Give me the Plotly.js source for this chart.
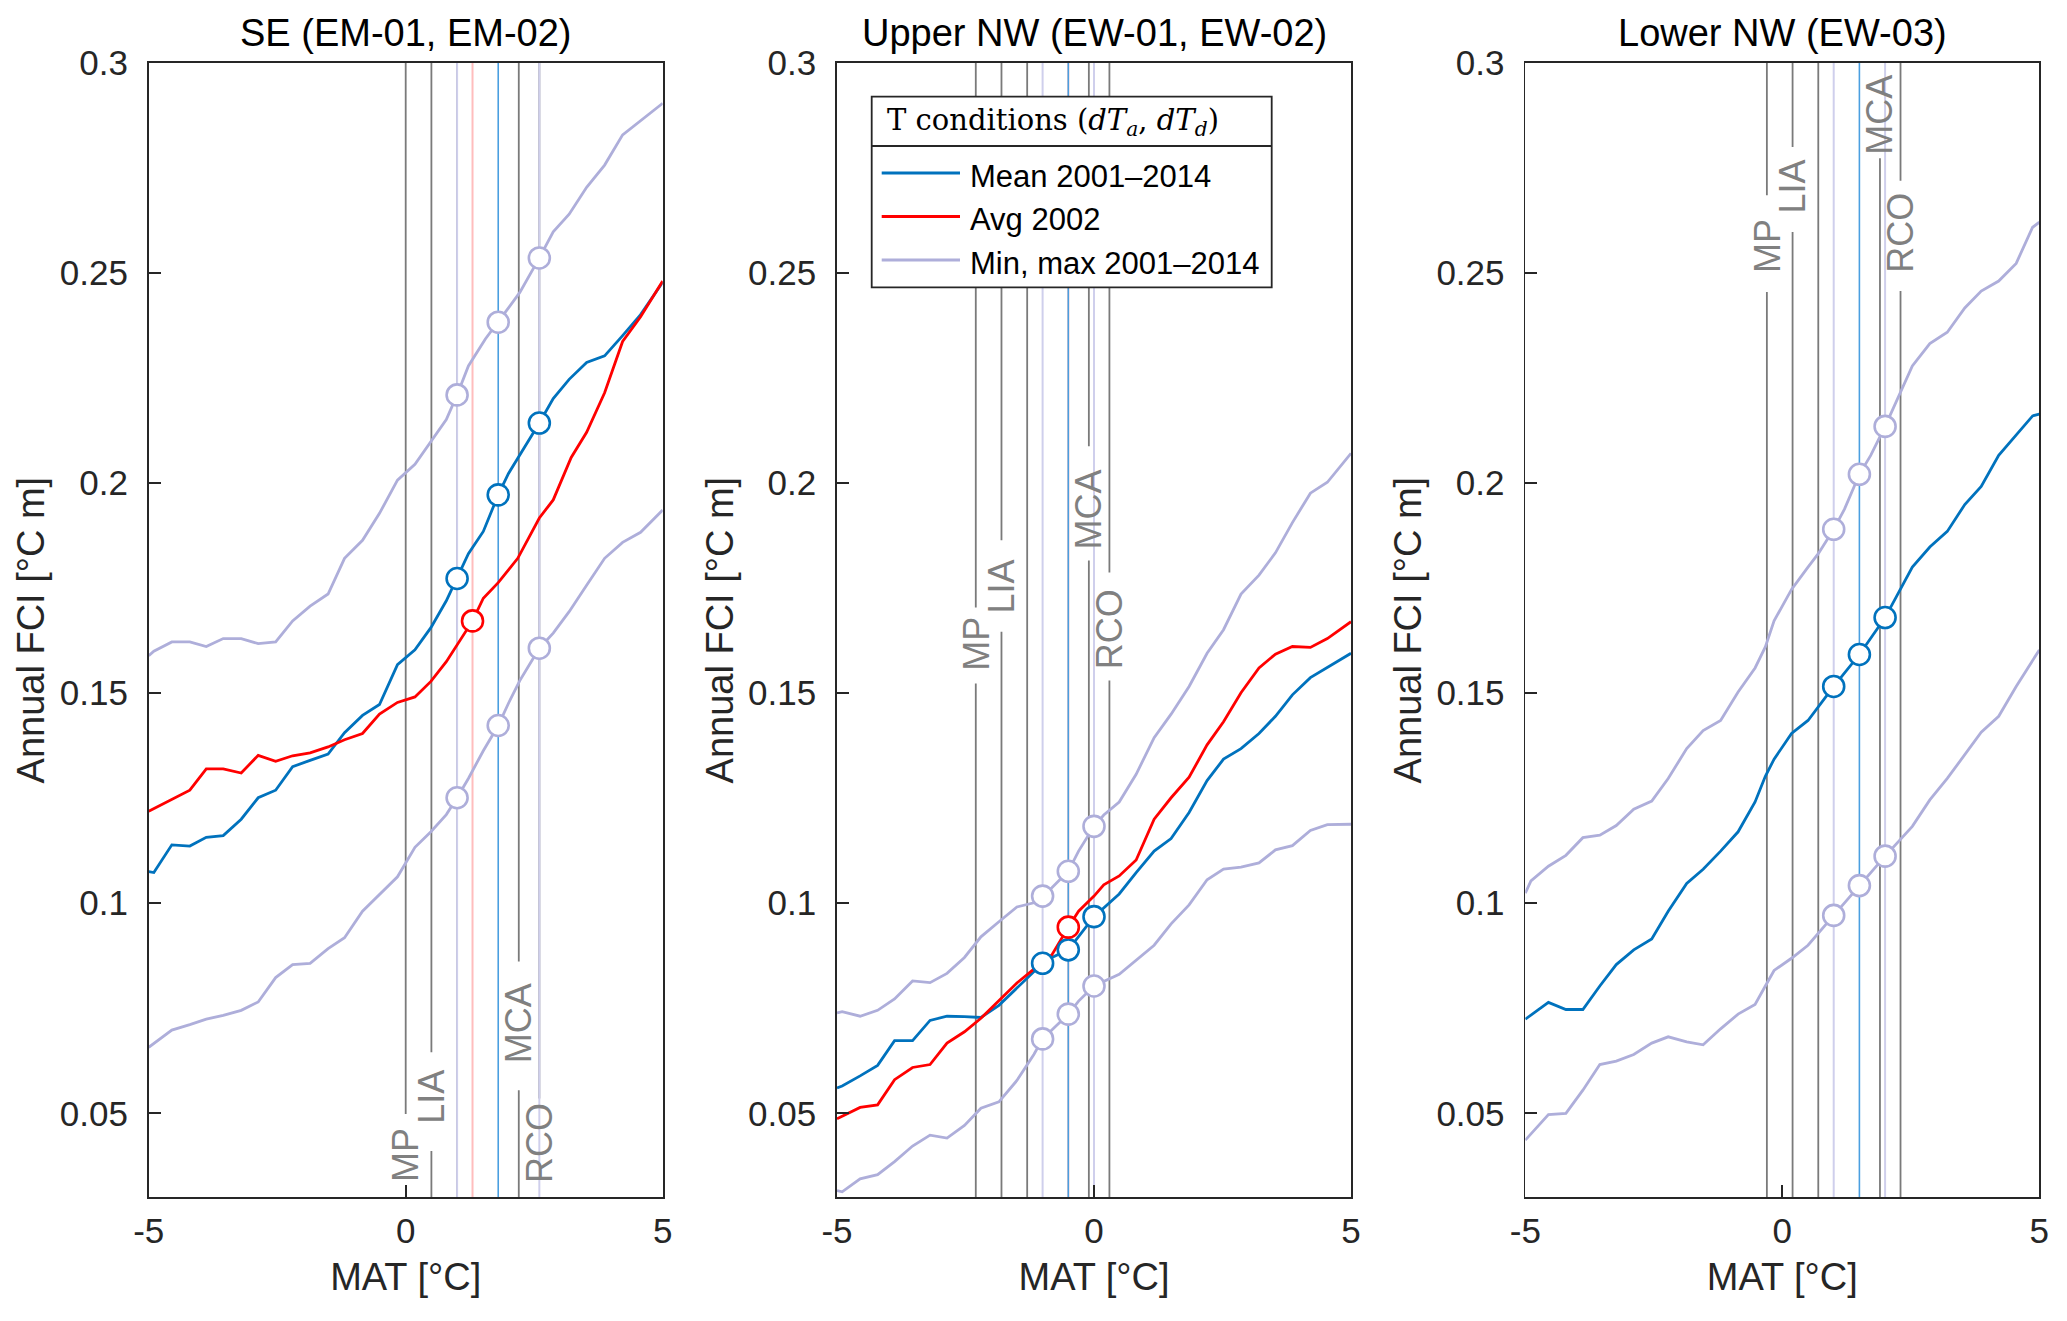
<!DOCTYPE html>
<html>
<head>
<meta charset="utf-8">
<script src="https://cdn.plot.ly/plotly-3.0.1.min.js"></script>
<style>html,body{margin:0;padding:0;background:#fff;}#chart{width:2067px;height:1321px;}</style>
</head>
<body>
<div id="chart"></div>
<script>
// ---------------- DATA ----------------
const panelTitles = ['SE (EM-01, EM-02)', 'Upper NW (EW-01, EW-02)', 'Lower NW (EW-03)'];
const xTickVals = [-5, 0, 5];
const xTickText = ['-5', '0', '5'];
const yTickVals = [0.05, 0.1, 0.15, 0.2, 0.25, 0.3];
const yTickText = ['0.05', '0.1', '0.15', '0.2', '0.25', '0.3'];
const legendTitle = 'T conditions (<i>dT</i><sub><i>a</i></sub>, <i>dT</i><sub><i>d</i></sub>)';
const seriesNames = ['Mean 2001\u20132014', 'Avg 2002', 'Min, max 2001\u20132014'];
const epochNames = ['MP', 'LIA', '', 'MCA', 'RCO'];

// SE (EM-01, EM-02)
const seMaxX = [-5, -4.9, -4.55, -4.2, -3.88, -3.55, -3.2, -2.87, -2.53, -2.2, -1.86, -1.51, -1.19, -0.84, -0.51, -0.16, 0.18, 0.49, 0.79, 1.0, 1.22, 1.55, 1.8, 2.0, 2.22, 2.6, 2.87, 3.18, 3.52, 3.87, 4.22, 4.57, 5];
const seMaxY = [0.1589, 0.1600, 0.1622, 0.1622, 0.1611, 0.1630, 0.1630, 0.1618, 0.1622, 0.1672, 0.1707, 0.1736, 0.1821, 0.1864, 0.1928, 0.2007, 0.2045, 0.2098, 0.2151, 0.2210, 0.2279, 0.2343, 0.2383, 0.2417, 0.2454, 0.2536, 0.2598, 0.2640, 0.2704, 0.2757, 0.2829, 0.2862, 0.2904];
const seMeanX = [-5, -4.9, -4.55, -4.2, -3.88, -3.55, -3.2, -2.87, -2.53, -2.2, -1.86, -1.51, -1.19, -0.84, -0.51, -0.16, 0.18, 0.49, 0.79, 1.0, 1.22, 1.51, 1.8, 2.0, 2.22, 2.6, 2.87, 3.18, 3.52, 3.87, 4.22, 4.57, 5];
const seMeanY = [0.1075, 0.1073, 0.1139, 0.1136, 0.1157, 0.1161, 0.1200, 0.1251, 0.1269, 0.1325, 0.1340, 0.1355, 0.1406, 0.1447, 0.1473, 0.1568, 0.1603, 0.1656, 0.1720, 0.1773, 0.1832, 0.1885, 0.1972, 0.2023, 0.2066, 0.2143, 0.2201, 0.2247, 0.2287, 0.2303, 0.2351, 0.2401, 0.2478];
const seAvgX = [-5, -4.55, -4.2, -3.88, -3.55, -3.2, -2.87, -2.53, -2.2, -1.86, -1.51, -1.19, -0.84, -0.51, -0.16, 0.18, 0.49, 0.79, 1.14, 1.3, 1.51, 1.8, 2.18, 2.6, 2.87, 3.22, 3.52, 3.87, 4.22, 4.57, 5];
const seAvgY = [0.1219, 0.1246, 0.1269, 0.1320, 0.1320, 0.1310, 0.1352, 0.1338, 0.1351, 0.1358, 0.1372, 0.1389, 0.1404, 0.1450, 0.1478, 0.1491, 0.1528, 0.1575, 0.1640, 0.1672, 0.1726, 0.1763, 0.1821, 0.1917, 0.1960, 0.2061, 0.2121, 0.2215, 0.2337, 0.2396, 0.2481];
const seMinX = [-5, -4.55, -4.2, -3.88, -3.55, -3.2, -2.87, -2.53, -2.2, -1.86, -1.51, -1.19, -0.84, -0.51, -0.16, 0.18, 0.49, 0.79, 1.0, 1.22, 1.51, 1.8, 2.0, 2.22, 2.6, 2.87, 3.18, 3.52, 3.87, 4.22, 4.57, 5];
const seMinY = [0.0657, 0.0698, 0.0711, 0.0724, 0.0733, 0.0745, 0.0765, 0.0823, 0.0854, 0.0857, 0.0892, 0.0918, 0.0981, 0.1020, 0.1063, 0.1133, 0.1170, 0.1211, 0.1251, 0.1297, 0.1363, 0.1423, 0.1476, 0.1530, 0.1607, 0.1643, 0.1694, 0.1757, 0.1821, 0.1859, 0.1883, 0.1936];
const seCondX = [1.0, 1.8, 2.6];
const seCondMaxY = [0.2210, 0.2383, 0.2536];
const seCondMeanY = [0.1773, 0.1972, 0.2143];
const seCondMinY = [0.1251, 0.1423, 0.1607];
const seAvgCondX = [1.3];
const seAvgCondY = [0.1672];
const seEpochX = [0, 0.5, 1.0, 2.2, 2.6];

// Upper NW (EW-01, EW-02)
const nwuMaxX = [-5, -4.9, -4.55, -4.21, -3.88, -3.53, -3.19, -2.86, -2.52, -2.2, -1.85, -1.5, -1.17, -1.0, -0.82, -0.5, -0.3, 0, 0.19, 0.49, 0.82, 1.17, 1.5, 1.85, 2.2, 2.52, 2.86, 3.21, 3.53, 3.86, 4.21, 4.54, 5];
const nwuMaxY = [0.0739, 0.0742, 0.0731, 0.0745, 0.0772, 0.0815, 0.0811, 0.0833, 0.0871, 0.0920, 0.0956, 0.0991, 0.1001, 0.1017, 0.1037, 0.1076, 0.1124, 0.1183, 0.1210, 0.1241, 0.1307, 0.1394, 0.1450, 0.1516, 0.1595, 0.1651, 0.1736, 0.1781, 0.1834, 0.1906, 0.1976, 0.2002, 0.2071];
const nwuMeanX = [-5, -4.9, -4.55, -4.21, -3.88, -3.53, -3.19, -2.86, -2.52, -2.2, -1.85, -1.5, -1.0, -0.82, -0.5, 0, 0.49, 0.82, 1.17, 1.5, 1.85, 2.2, 2.52, 2.86, 3.21, 3.53, 3.86, 4.21, 4.54, 5];
const nwuMeanY = [0.0560, 0.0565, 0.0589, 0.0614, 0.0673, 0.0673, 0.0721, 0.0731, 0.0730, 0.0728, 0.0757, 0.0798, 0.0857, 0.0871, 0.0889, 0.0968, 0.1022, 0.1073, 0.1124, 0.1154, 0.1216, 0.1292, 0.1343, 0.1368, 0.1404, 0.1445, 0.1496, 0.1537, 0.1562, 0.1595];
const nwuAvgX = [-5, -4.55, -4.21, -3.88, -3.53, -3.19, -2.86, -2.52, -2.2, -1.85, -1.5, -1.17, -0.82, -0.5, -0.3, 0, 0.19, 0.49, 0.82, 1.17, 1.5, 1.85, 2.2, 2.52, 2.86, 3.21, 3.53, 3.86, 4.21, 4.54, 5];
const nwuAvgY = [0.0487, 0.0514, 0.0520, 0.0580, 0.0609, 0.0616, 0.0667, 0.0694, 0.0726, 0.0767, 0.0810, 0.0843, 0.0877, 0.0943, 0.0981, 0.1017, 0.1044, 0.1065, 0.1103, 0.1200, 0.1251, 0.1300, 0.1377, 0.1432, 0.1501, 0.1560, 0.1593, 0.1611, 0.1609, 0.1630, 0.1670];
const nwuMinX = [-5, -4.9, -4.55, -4.21, -3.88, -3.53, -3.19, -2.86, -2.52, -2.2, -1.85, -1.5, -1.17, -1.0, -0.82, -0.5, -0.3, 0, 0.49, 0.82, 1.17, 1.5, 1.85, 2.2, 2.52, 2.86, 3.21, 3.53, 3.86, 4.21, 4.54, 5];
const nwuMinY = [0.0316, 0.0313, 0.0344, 0.0354, 0.0385, 0.0422, 0.0448, 0.0441, 0.0471, 0.0512, 0.0527, 0.0578, 0.0640, 0.0677, 0.0698, 0.0736, 0.0767, 0.0803, 0.0831, 0.0864, 0.0900, 0.0951, 0.0996, 0.1056, 0.1081, 0.1086, 0.1096, 0.1127, 0.1137, 0.1173, 0.1187, 0.1188];
const nwuCondX = [-1.0, -0.5, 0.0];
const nwuCondMaxY = [0.1017, 0.1076, 0.1183];
const nwuCondMeanY = [0.0857, 0.0889, 0.0968];
const nwuCondMinY = [0.0677, 0.0736, 0.0803];
const nwuAvgCondX = [-0.5];
const nwuAvgCondY = [0.0943];
const nwuEpochX = [-2.3, -1.8, -1.3, -0.1, 0.3];

// Lower NW (EW-03)
const nwlMaxX = [-5, -4.89, -4.55, -4.21, -3.88, -3.55, -3.23, -2.89, -2.54, -2.22, -1.86, -1.54, -1.2, -0.86, -0.53, -0.33, -0.16, 0.18, 0.5, 0.7, 1.0, 1.21, 1.5, 1.72, 2.0, 2.22, 2.53, 2.87, 3.21, 3.55, 3.87, 4.21, 4.55, 4.87, 5];
const nwlMaxY = [0.1024, 0.1053, 0.1088, 0.1114, 0.1156, 0.1162, 0.1185, 0.1224, 0.1243, 0.1297, 0.1368, 0.1411, 0.1435, 0.1503, 0.1560, 0.1610, 0.1672, 0.1747, 0.1800, 0.1832, 0.1890, 0.1938, 0.2021, 0.2066, 0.2135, 0.2194, 0.2279, 0.2332, 0.2359, 0.2417, 0.2457, 0.2481, 0.2523, 0.2609, 0.2621];
const nwlMeanX = [-5, -4.89, -4.55, -4.21, -3.88, -3.55, -3.23, -2.89, -2.54, -2.22, -1.86, -1.54, -1.2, -0.86, -0.53, -0.33, -0.16, 0.18, 0.5, 1.0, 1.5, 2.0, 2.53, 2.87, 3.21, 3.55, 3.87, 4.21, 4.55, 4.87, 5];
const nwlMeanY = [0.0724, 0.0734, 0.0764, 0.0747, 0.0747, 0.0803, 0.0854, 0.0889, 0.0915, 0.0981, 0.1047, 0.1081, 0.1124, 0.1170, 0.1241, 0.1302, 0.1343, 0.1404, 0.1435, 0.1516, 0.1592, 0.1680, 0.1800, 0.1848, 0.1885, 0.1949, 0.1992, 0.2066, 0.2114, 0.2160, 0.2164];
const nwlMinX = [-5, -4.89, -4.55, -4.21, -3.88, -3.55, -3.23, -2.89, -2.54, -2.22, -1.86, -1.54, -1.2, -0.86, -0.53, -0.33, -0.16, 0.18, 0.5, 1.0, 1.5, 2.0, 2.53, 2.87, 3.21, 3.55, 3.87, 4.21, 4.55, 5];
const nwlMinY = [0.0436, 0.0451, 0.0497, 0.0500, 0.0555, 0.0616, 0.0624, 0.0640, 0.0667, 0.0682, 0.0670, 0.0663, 0.0701, 0.0736, 0.0759, 0.0803, 0.0840, 0.0869, 0.0900, 0.0971, 0.1042, 0.1112, 0.1183, 0.1246, 0.1297, 0.1353, 0.1407, 0.1445, 0.1516, 0.1603];
const nwlCondX = [1.0, 1.5, 2.0];
const nwlCondMaxY = [0.1890, 0.2021, 0.2135];
const nwlCondMeanY = [0.1516, 0.1592, 0.1680];
const nwlCondMinY = [0.0971, 0.1042, 0.1112];
const nwlEpochX = [-0.3, 0.2, 0.7, 1.9, 2.3];

// ---------------- LAYOUT HELPERS (positions / styles) ----------------
const W = 2067, H = 1321;
const Y_MIN = 0.03, Y_MAX = 0.3;
const FONT = 'Liberation Sans, Arial, sans-serif';
const AX_COL = '#262626';
const C_BLUE = '#0072BD', C_RED = '#FF0000', C_LAV = '#AEAEDA';
const C_LAV_V = '#CFCFEC', C_BLUE_V = '#4A9FE0', C_RED_V = '#FFBDBD', C_GRAY = '#7A7A7A', C_LABEL = '#808080';
const PX = (v) => v / W;
const PY = (v) => 1 - v / H;

// label centre y and line-gap per labelled epoch line (MP, LIA, -, MCA, RCO)
const labelPos = [
  [[0.040, 0.030, 0.0498], [0.054, 0.041, 0.0645], null, [0.0714, 0.0555, 0.0861], [0.043, 0.030, 0.0535]],
  [[0.1617, 0.1523, 0.1704], [0.1755, 0.1646, 0.1864], null, [0.1937, 0.1816, 0.2088], [0.1653, 0.153, 0.1787]],
  [[0.2564, 0.2455, 0.2685], [0.2705, 0.2598, 0.2800], null, [0.2877, 0.2773, 0.3000], [0.2595, 0.2457, 0.2720]]
];

const panels = [
  {max:[seMaxX, seMaxY], mean:[seMeanX, seMeanY], avg:[seAvgX, seAvgY], min:[seMinX, seMinY],
   cx: seCondX, cmax: seCondMaxY, cmean: seCondMeanY, cmin: seCondMinY, ax: seAvgCondX, ay: seAvgCondY, ep: seEpochX},
  {max:[nwuMaxX, nwuMaxY], mean:[nwuMeanX, nwuMeanY], avg:[nwuAvgX, nwuAvgY], min:[nwuMinX, nwuMinY],
   cx: nwuCondX, cmax: nwuCondMaxY, cmean: nwuCondMeanY, cmin: nwuCondMinY, ax: nwuAvgCondX, ay: nwuAvgCondY, ep: nwuEpochX},
  {max:[nwlMaxX, nwlMaxY], mean:[nwlMeanX, nwlMeanY], avg:null, min:[nwlMinX, nwlMinY],
   cx: nwlCondX, cmax: nwlCondMaxY, cmean: nwlCondMeanY, cmin: nwlCondMinY, ax: null, ay: null, ep: nwlEpochX}
];

const pxDomains = [[148.7, 662.7], [837, 1351], [1525.3, 2039.3]];
const yDomainPx = [63, 1197.3];

const traces = [];
const annotations = [];
const shapes = [];
const layout = {
  width: W, height: H,
  margin: {l: 0, r: 0, t: 0, b: 0},
  paper_bgcolor: '#fff', plot_bgcolor: '#fff',
  font: {family: FONT, color: AX_COL},
  showlegend: false,
  annotations: annotations, shapes: shapes
};

function vline(xv, lo, hi, color, width, xa, ya) {
  let X = [xv, xv], Y = [Y_MIN, Y_MAX];
  if (lo !== null) { X = [xv, xv, null, xv, xv]; Y = [Y_MIN, lo, null, hi, Y_MAX]; }
  traces.push({type: 'scatter', mode: 'lines', x: X, y: Y, xaxis: xa, yaxis: ya,
    line: {color: color, width: width}, hoverinfo: 'skip', showlegend: false, connectgaps: false});
}

panels.forEach((p, i) => {
  const n = i === 0 ? '' : String(i + 1);
  const xa = 'x' + n, ya = 'y' + n;
  p.ep.forEach((xv, k) => {
    const lp = labelPos[i][k];
    vline(xv, lp ? lp[1] : null, lp ? lp[2] : null, C_GRAY, 1.8, xa, ya);
    if (lp && epochNames[k]) {
      annotations.push({xref: xa, yref: ya, x: xv, y: lp[0], text: epochNames[k], textangle: -90,
        showarrow: false, xanchor: 'center', yanchor: 'middle',
        font: {family: FONT, size: 36, color: C_LABEL}});
    }
  });
  vline(p.cx[0], null, null, C_LAV_V, 2, xa, ya);
  vline(p.cx[2], null, null, C_LAV_V, 2, xa, ya);
  if (p.ax) vline(p.ax[0], null, null, C_RED_V, 2, xa, ya);
  vline(p.cx[1], null, null, C_BLUE_V, 1.6, xa, ya);
  traces.push({type:'scatter', mode:'lines', x:p.max[0], y:p.max[1], xaxis:xa, yaxis:ya, line:{color:C_LAV, width:2.8}, name: seriesNames[2], hoverinfo:'skip'});
  traces.push({type:'scatter', mode:'lines', x:p.min[0], y:p.min[1], xaxis:xa, yaxis:ya, line:{color:C_LAV, width:2.8}, name: seriesNames[2], hoverinfo:'skip'});
  traces.push({type:'scatter', mode:'lines', x:p.mean[0], y:p.mean[1], xaxis:xa, yaxis:ya, line:{color:C_BLUE, width:2.8}, name: seriesNames[0], hoverinfo:'skip'});
  if (p.avg) traces.push({type:'scatter', mode:'lines', x:p.avg[0], y:p.avg[1], xaxis:xa, yaxis:ya, line:{color:C_RED, width:2.8}, name: seriesNames[1], hoverinfo:'skip'});
  const mk = (c) => ({symbol:'circle', size:21, color:'#fff', line:{color:c, width:2.6}});
  traces.push({type:'scatter', mode:'markers', x:p.cx, y:p.cmax, xaxis:xa, yaxis:ya, marker:mk(C_LAV), hoverinfo:'skip'});
  traces.push({type:'scatter', mode:'markers', x:p.cx, y:p.cmin, xaxis:xa, yaxis:ya, marker:mk(C_LAV), hoverinfo:'skip'});
  traces.push({type:'scatter', mode:'markers', x:p.cx, y:p.cmean, xaxis:xa, yaxis:ya, marker:mk(C_BLUE), hoverinfo:'skip'});
  if (p.ax) traces.push({type:'scatter', mode:'markers', x:p.ax, y:p.ay, xaxis:xa, yaxis:ya, marker:mk(C_RED), hoverinfo:'skip'});

  const dom = [PX(pxDomains[i][0]), PX(pxDomains[i][1])];
  layout['xaxis' + n] = {domain: dom, anchor: ya, range: [-5, 5], tickvals: xTickVals, ticktext: xTickText,
    ticks: 'inside', ticklen: 12, tickwidth: 1.8, tickcolor: AX_COL, showline: true, linecolor: AX_COL, linewidth: 1.8,
    mirror: true, showgrid: false, zeroline: false, ticklabelstandoff: 2,
    tickfont: {family: FONT, size: 35, color: AX_COL},
    title: {text: 'MAT [°C]', font: {family: FONT, size: 38, color: AX_COL}, standoff: 14}};
  layout['yaxis' + n] = {domain: [PY(yDomainPx[1]), PY(yDomainPx[0])], anchor: xa, range: [Y_MIN, Y_MAX],
    tickvals: yTickVals, ticktext: yTickText,
    ticks: 'inside', ticklen: 12, tickwidth: 1.8, tickcolor: AX_COL, showline: true, linecolor: AX_COL, linewidth: 1.8,
    mirror: true, showgrid: false, zeroline: false, ticklabelstandoff: 12,
    tickfont: {family: FONT, size: 35, color: AX_COL},
    title: {text: 'Annual FCI [°C m]', font: {family: FONT, size: 38, color: AX_COL}, standoff: 3}};
  annotations.push({xref: 'paper', yref: 'paper', x: PX((pxDomains[i][0] + pxDomains[i][1]) / 2), y: PY(33.4),
    text: panelTitles[i], showarrow: false, xanchor: 'center', yanchor: 'middle',
    font: {family: FONT, size: 38, color: '#000'}});
});

// ---------------- legend box (drawn in panel 2) ----------------
const LG = {x0: 871.7, x1: 1271.7, y0: 96.7, y1: 287.3, sep: 146, sampleX0: 881.7, sampleX1: 960, textX: 970,
            rows: [174, 217.5, 261]};
const legendColors = [C_BLUE, C_RED, C_LAV];
shapes.push({type: 'rect', xref: 'paper', yref: 'paper', layer: 'above',
  x0: PX(LG.x0), x1: PX(LG.x1), y0: PY(LG.y1), y1: PY(LG.y0), fillcolor: '#fff', line: {color: AX_COL, width: 1.8}});
shapes.push({type: 'line', xref: 'paper', yref: 'paper', layer: 'above',
  x0: PX(LG.x0), x1: PX(LG.x1), y0: PY(LG.sep), y1: PY(LG.sep), line: {color: AX_COL, width: 1.8}});
annotations.push({xref: 'paper', yref: 'paper', x: PX(885), y: PY(122), text: legendTitle, showarrow: false,
  xanchor: 'left', yanchor: 'middle', font: {family: 'DejaVu Serif, Liberation Serif, serif', size: 29, color: '#000'}});
seriesNames.forEach((nm, k) => {
  shapes.push({type: 'line', xref: 'paper', yref: 'paper', layer: 'above',
    x0: PX(LG.sampleX0), x1: PX(LG.sampleX1), y0: PY(LG.rows[k] - 1), y1: PY(LG.rows[k] - 1),
    line: {color: legendColors[k], width: 2.8}});
  annotations.push({xref: 'paper', yref: 'paper', x: PX(LG.textX - 2), y: PY(LG.rows[k] + 2), text: nm, showarrow: false,
    xanchor: 'left', yanchor: 'middle', font: {family: FONT, size: 31, color: '#000'}});
});

Plotly.newPlot('chart', traces, layout, {staticPlot: true, displayModeBar: false});
</script>
</body>
</html>
